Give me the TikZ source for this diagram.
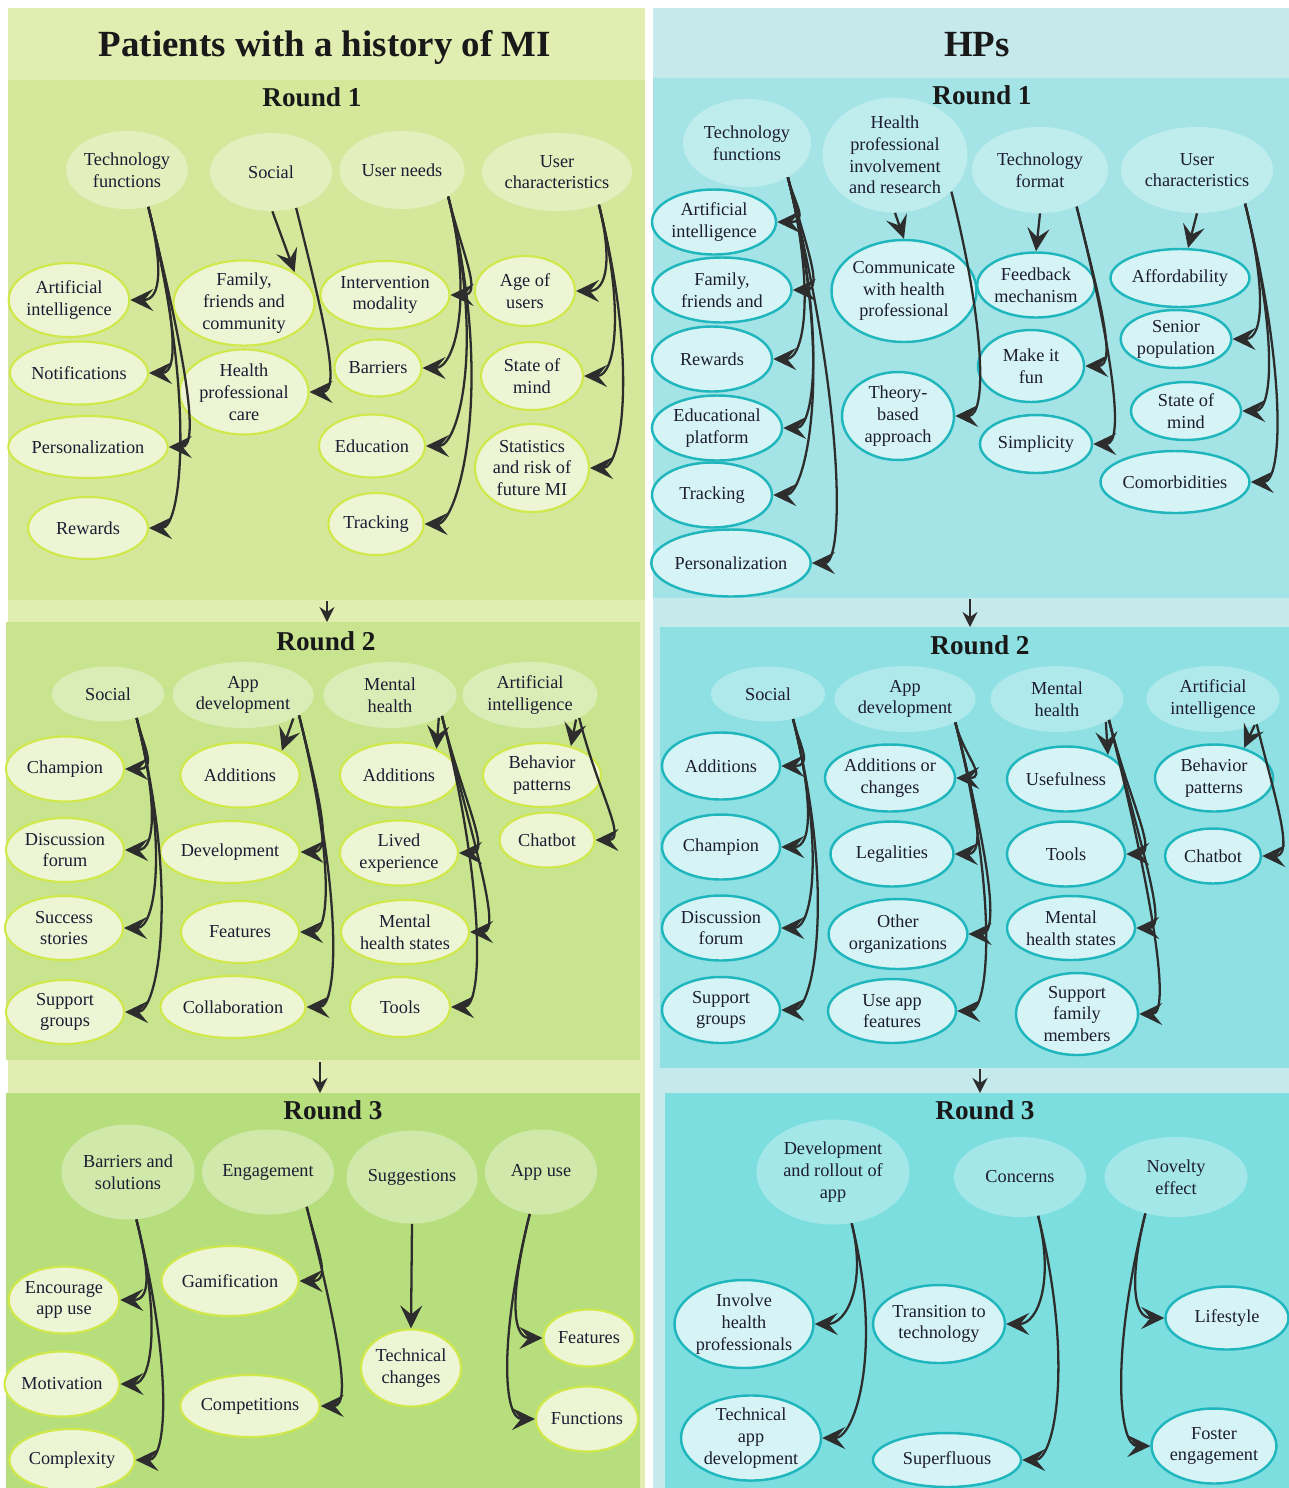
\documentclass[tikz,border=0pt]{standalone}
\usepackage{fontspec}
\setmainfont{Liberation Serif}
\usepackage{tikz}
\usetikzlibrary{shapes.geometric}
\usetikzlibrary{calc}
\usetikzlibrary{arrows.meta}

\definecolor{ink}{RGB}{28,28,50}
\definecolor{arrowgray}{RGB}{45,45,45}
\definecolor{pback}{RGB}{225,237,177}
\definecolor{pr1}{RGB}{212,231,154}
\definecolor{pr2}{RGB}{201,228,143}
\definecolor{pr3}{RGB}{183,222,125}
\definecolor{pfill}{RGB}{237,245,212}
\definecolor{pedge}{RGB}{208,232,74}
\definecolor{hback}{RGB}{198,234,235}
\definecolor{hr1}{RGB}{164,228,230}
\definecolor{hr2}{RGB}{142,224,227}
\definecolor{hr3}{RGB}{125,222,224}
\definecolor{hfill}{RGB}{214,244,245}
\definecolor{hedge}{RGB}{32,182,190}

\begin{document}
\begin{tikzpicture}[x=0.2mm, y=0.2mm, font=\fontsize{10.4}{12.4}\selectfont,
		heading/.style={font=\fontsize{21}{25}\selectfont\bfseries, text=black!90},
		roundlbl/.style={font=\fontsize{15.5}{18}\selectfont\bfseries, text=black!90},
		sz/.style 2 args={minimum width=#1*0.2mm, minimum height=#2*0.2mm},
		pcat/.style={ellipse, inner sep=0pt, align=center, text=ink, fill=white, fill opacity=0.35, text opacity=1},
		pitem/.style={ellipse, inner sep=0pt, align=center, text=ink, fill=pfill, draw=pedge, line width=1.2pt},
		hcat/.style={ellipse, inner sep=0pt, align=center, text=ink, fill=white, fill opacity=0.3, text opacity=1},
		hitem/.style={ellipse, inner sep=0pt, align=center, text=ink, fill=hfill, draw=hedge, line width=1.4pt},
		arr/.style={-{Stealth[length=4.6mm,width=4.4mm,inset=1.8mm]}, line width=1.3pt, draw=arrowgray},
		link/.style={-{Stealth[length=3mm,width=3mm,inset=1mm]}, line width=1pt, draw=arrowgray},
		fork/.style={to path={.. controls ($(\tikztostart)!0.6!(\tikztostart|-\tikztotarget)!0.25!-90:(\tikztostart)$) and ($(\tikztotarget)+(32,0)$) .. (\tikztotarget)}},
		forkr/.style={to path={.. controls ($(\tikztostart)!0.6!(\tikztostart|-\tikztotarget)!0.25!90:(\tikztostart)$) and ($(\tikztotarget)+(-32,0)$) .. (\tikztotarget)}}]
	\useasboundingbox (0,0) rectangle (1289,-1488);
	\fill[white] (0,0) rectangle (1289,-1488);

	% panels
	\fill[pback] (8,-8) rectangle (645,-1488);
	\fill[pr1] (8,-80) rectangle (645,-600);
	\fill[pr2] (6,-622) rectangle (640,-1060);
	\fill[pr3] (6,-1093) rectangle (640,-1488);
	\fill[hback] (653,-8) rectangle (1289,-1488);
	\fill[hr1] (653,-78) rectangle (1289,-598);
	\fill[hr2] (660,-627) rectangle (1289,-1068);
	\fill[hr3] (665,-1093) rectangle (1289,-1488);

	\node (ptitle) [heading] at (325,-47) {Patients with a history of MI};
	\node (htitle) [heading] at (977,-45) {HPs};
	\node (p1) [roundlbl] at (312,-97) {Round 1};
	\node (p2) [roundlbl] at (326,-641) {Round 2};
	\node (p3) [roundlbl] at (333,-1110) {Round 3};
	\node (h1) [roundlbl] at (982,-95) {Round 1};
	\node (h2) [roundlbl] at (980,-645) {Round 2};
	\node (h3) [roundlbl] at (985,-1110) {Round 3};

	% patients, round 1
	\node (p1tech) [pcat, sz={120}{78}] at (127,-170) {Technology\\functions};
	\node (p1soc)  [pcat, sz={122}{78}] at (271,-172) {Social};
	\node (p1need) [pcat, sz={125}{78}] at (402,-170) {User needs};
	\node (p1char) [pcat, sz={150}{78}] at (557,-172) {User\\characteristics};
	\node (p1ai)   [pitem, sz={120}{74}] at (69,-300) {Artificial\\intelligence};
	\node (p1not)  [pitem, sz={138}{63}] at (79,-373) {Notifications};
	\node (p1pers) [pitem, sz={157}{62}] at (88,-447) {Personalization};
	\node (p1rew)  [pitem, sz={120}{62}] at (88,-528) {Rewards};
	\node (p1fam)  [pitem, sz={141}{82}] at (244,-303) {Family,\\friends and\\community};
	\node (p1care) [pitem, sz={129}{85}] at (244,-392) {Health\\professional\\care};
	\node (p1mod)  [pitem, sz={129}{68}] at (385,-295) {Intervention\\modality};
	\node (p1bar)  [pitem, sz={87}{57}] at (378,-368) {Barriers};
	\node (p1edu)  [pitem, sz={106}{63}] at (372,-446) {Education};
	\node (p1trk)  [pitem, sz={95}{62}] at (376,-524) {Tracking};
	\node (p1age)  [pitem, sz={100}{70}] at (525,-291) {Age of\\users};
	\node (p1mind) [pitem, sz={102}{68}] at (532,-376) {State of\\mind};
	\node (p1stat) [pitem, sz={114}{88}] at (532,-468) {Statistics\\and risk of\\future MI};

	% patients, round 2
	\node (p2soc)   [pcat, sz={112}{55}] at (108,-694) {Social};
	\node (p2app)   [pcat, sz={141}{66}] at (243,-695) {App\\development};
	\node (p2mh)    [pcat, sz={133}{66}] at (390,-695) {Mental\\health};
	\node (p2ai)    [pcat, sz={135}{66}] at (530,-695) {Artificial\\intelligence};
	\node (p2champ) [pitem, sz={118}{65}] at (65,-769) {Champion};
	\node (p2forum) [pitem, sz={118}{64}] at (65,-850) {Discussion\\forum};
	\node (p2succ)  [pitem, sz={118}{64}] at (64,-928) {Success\\stories};
	\node (p2supp)  [pitem, sz={118}{64}] at (65,-1012) {Support\\groups};
	\node (p2add)   [pitem, sz={119}{65}] at (240,-775) {Additions};
	\node (p2dev)   [pitem, sz={137}{62}] at (230,-852) {Development};
	\node (p2feat)  [pitem, sz={118}{62}] at (240,-932) {Features};
	\node (p2coll)  [pitem, sz={145}{62}] at (233,-1007) {Collaboration};
	\node (p2madd)  [pitem, sz={118}{65}] at (399,-775) {Additions};
	\node (p2lived) [pitem, sz={118}{65}] at (399,-853) {Lived\\experience};
	\node (p2mhs)   [pitem, sz={128}{64}] at (405,-932) {Mental\\health states};
	\node (p2tools) [pitem, sz={100}{60}] at (400,-1007) {Tools};
	\node (p2beh)   [pitem, sz={118}{64}] at (542,-775) {Behavior\\patterns};
	\node (p2chat)  [pitem, sz={95}{55}] at (547,-840) {Chatbot};

	% patients, round 3
	\node (p3bar)   [pcat, sz={133}{95}] at (128,-1172) {Barriers and\\solutions};
	\node (p3eng)   [pcat, sz={132}{85}] at (268,-1172) {Engagement};
	\node (p3sug)   [pcat, sz={131}{93}] at (412,-1177) {Suggestions};
	\node (p3use)   [pcat, sz={112}{85}] at (541,-1172) {App use};
	\node (p3enc)   [pitem, sz={108}{67}] at (64,-1300) {Encourage\\app use};
	\node (p3mot)   [pitem, sz={112}{65}] at (62,-1384) {Motivation};
	\node (p3comp)  [pitem, sz={125}{62}] at (72,-1460) {Complexity};
	\node (p3gam)   [pitem, sz={137}{70}] at (230,-1281) {Gamification};
	\node (p3compt) [pitem, sz={139}{62}] at (250,-1406) {Competitions};
	\node (p3tech)  [pitem, sz={99}{77}] at (411,-1368) {Technical\\changes};
	\node (p3feat)  [pitem, sz={91}{57}] at (589,-1338) {Features};
	\node (p3func)  [pitem, sz={99}{65}] at (587,-1419) {Functions};

	% HPs, round 1
	\node (h1tech) [hcat, sz={128}{88}] at (747,-143) {Technology\\functions};
	\node (h1inv)  [hcat, sz={145}{115}] at (895,-155) {Health\\professional\\involvement\\and research};
	\node (h1fmt)  [hcat, sz={136}{86}] at (1040,-170) {Technology\\format};
	\node (h1char) [hcat, sz={152}{86}] at (1197,-170) {User\\characteristics};
	\node (h1ai)   [hitem, sz={124}{65}] at (714,-222) {Artificial\\intelligence};
	\node (h1fam)  [hitem, sz={139}{65}] at (722,-290) {Family,\\friends and};
	\node (h1rew)  [hitem, sz={120}{65}] at (712,-359) {Rewards};
	\node (h1edu)  [hitem, sz={130}{65}] at (717,-428) {Educational\\platform};
	\node (h1trk)  [hitem, sz={120}{65}] at (712,-495) {Tracking};
	\node (h1pers) [hitem, sz={157}{67}] at (731,-563) {Personalization};
	\node (h1comm) [hitem, sz={143}{102}] at (904,-291) {Communicate\\with health\\professional};
	\node (h1theo) [hitem, sz={112}{88}] at (898,-416) {Theory-\\based\\approach};
	\node (h1feed) [hitem, sz={116}{65}] at (1036,-285) {Feedback\\mechanism};
	\node (h1fun)  [hitem, sz={106}{72}] at (1031,-366) {Make it\\fun};
	\node (h1simp) [hitem, sz={112}{58}] at (1036,-444) {Simplicity};
	\node (h1aff)  [hitem, sz={139}{58}] at (1180,-278) {Affordability};
	\node (h1sen)  [hitem, sz={110}{58}] at (1176,-339) {Senior\\population};
	\node (h1mind) [hitem, sz={110}{58}] at (1186,-411) {State of\\mind};
	\node (h1com)  [hitem, sz={149}{62}] at (1175,-482) {Comorbidities};

	% HPs, round 2
	\node (h2soc)    [hcat, sz={114}{55}] at (768,-694) {Social};
	\node (h2app)    [hcat, sz={141}{66}] at (905,-699) {App\\development};
	\node (h2mh)     [hcat, sz={133}{66}] at (1057,-699) {Mental\\health};
	\node (h2ai)     [hcat, sz={133}{66}] at (1213,-699) {Artificial\\intelligence};
	\node (h2add)    [hitem, sz={118}{67}] at (721,-766) {Additions};
	\node (h2champ)  [hitem, sz={118}{65}] at (721,-847) {Champion};
	\node (h2forum)  [hitem, sz={118}{65}] at (721,-928) {Discussion\\forum};
	\node (h2supp)   [hitem, sz={118}{66}] at (721,-1010) {Support\\groups};
	\node (h2chg)    [hitem, sz={129}{67}] at (890,-778) {Additions or\\changes};
	\node (h2leg)    [hitem, sz={123}{65}] at (892,-854) {Legalities};
	\node (h2org)    [hitem, sz={135}{70}] at (898,-934) {Other\\organizations};
	\node (h2use)    [hitem, sz={128}{64}] at (892,-1011) {Use app\\features};
	\node (h2useful) [hitem, sz={118}{65}] at (1066,-779) {Usefulness};
	\node (h2tools)  [hitem, sz={118}{65}] at (1066,-854) {Tools};
	\node (h2mhs)    [hitem, sz={128}{64}] at (1071,-928) {Mental\\health states};
	\node (h2fam)    [hitem, sz={122}{82}] at (1077,-1014) {Support\\family\\members};
	\node (h2beh)    [hitem, sz={118}{67}] at (1214,-778) {Behavior\\patterns};
	\node (h2chat)   [hitem, sz={96}{55}] at (1213,-856) {Chatbot};

	% HPs, round 3
	\node (h3dev)  [hcat, sz={153}{105}] at (833,-1172) {Development\\and rollout of\\app};
	\node (h3con)  [hcat, sz={132}{80}] at (1020,-1177) {Concerns};
	\node (h3nov)  [hcat, sz={143}{80}] at (1176,-1177) {Novelty\\effect};
	\node (h3inv)  [hitem, sz={139}{88}] at (744,-1324) {Involve\\health\\professionals};
	\node (h3tech) [hitem, sz={140}{82}] at (751,-1438) {Technical\\app\\development};
	\node (h3tran) [hitem, sz={131}{78}] at (939,-1324) {Transition to\\technology};
	\node (h3sup)  [hitem, sz={148}{54}] at (947,-1460) {Superfluous};
	\node (h3life) [hitem, sz={123}{63}] at (1227,-1318) {Lifestyle};
	\node (h3fost) [hitem, sz={118}{75}] at (1214,-1446) {Foster\\engagement};

	% arrows between rounds
	\coordinate (p12a) at (327,-601);
	\coordinate (p12b) at (327,-622);
	\coordinate (p23a) at (320,-1062);
	\coordinate (p23b) at (320,-1093);
	\coordinate (h12a) at (970,-599);
	\coordinate (h12b) at (970,-627);
	\coordinate (h23a) at (980,-1069);
	\coordinate (h23b) at (980,-1093);
	\draw [link] (p12a)--(p12b);
	\draw [link] (p23a)--(p23b);
	\draw [link] (h12a)--(h12b);
	\draw [link] (h23a)--(h23b);

	% patients, round 1
	\draw [arr] (p1tech.-60) to[fork] (p1ai.east);
	\draw [arr] (p1tech.-60) to[fork] (p1not.east);
	\draw [arr] (p1tech.-60) to[fork] (p1pers.east);
	\draw [arr] (p1tech.-60) to[fork] (p1rew.east);
	\draw [arr] (p1soc.-88)--(p1fam.north east);
	\draw [arr] (p1soc.-55) to[fork] (p1care.east);
	\draw [arr] (p1need.-30) to[fork] (p1mod.east);
	\draw [arr] (p1need.-30) to[fork] (p1bar.east);
	\draw [arr] (p1need.-30) to[fork] (p1edu.east);
	\draw [arr] (p1need.-30) to[fork] (p1trk.east);
	\draw [arr] (p1char.-38) to[fork] (p1age.east);
	\draw [arr] (p1char.-38) to[fork] (p1mind.east);
	\draw [arr] (p1char.-38) to[fork] (p1stat.east);

	% patients, round 2
	\draw [arr] (p2soc.-40) to[fork] (p2champ.east);
	\draw [arr] (p2soc.-40) to[fork] (p2forum.east);
	\draw [arr] (p2soc.-40) to[fork] (p2succ.east);
	\draw [arr] (p2soc.-40) to[fork] (p2supp.east);
	\draw [arr] (p2app.-25)--(p2add.30);
	\draw [arr] (p2app.-20) to[fork] (p2dev.east);
	\draw [arr] (p2app.-20) to[fork] (p2feat.east);
	\draw [arr] (p2app.-20) to[fork] (p2coll.east);
	\draw [arr] (p2mh.-25)--(p2madd.35);
	\draw [arr] (p2mh.-22) to[fork] (p2lived.east);
	\draw [arr] (p2mh.-22) to[fork] (p2mhs.east);
	\draw [arr] (p2mh.-22) to[fork] (p2tools.east);
	\draw [arr] (p2ai.-28)--(p2beh.45);
	\draw [arr] (p2ai.-25) to[fork] (p2chat.east);

	% patients, round 3
	\draw [arr] (p3bar.-80) to[fork] (p3enc.east);
	\draw [arr] (p3bar.-80) to[fork] (p3mot.east);
	\draw [arr] (p3bar.-80) to[fork] (p3comp.east);
	\draw [arr] (p3eng.-42) to[fork] (p3gam.east);
	\draw [arr] (p3eng.-42) to[fork] (p3compt.east);
	\draw [arr] (p3sug.south)--(p3tech.north);
	\draw [arr] (p3use.-105) to[forkr] (p3feat.west);
	\draw [arr] (p3use.-105) to[forkr] (p3func.west);

	% HPs, round 1
	\draw [arr] (h1tech.-40) to[fork] (h1ai.east);
	\draw [arr] (h1tech.-40) to[fork] (h1fam.east);
	\draw [arr] (h1tech.-40) to[fork] (h1rew.east);
	\draw [arr] (h1tech.-40) to[fork] (h1edu.east);
	\draw [arr] (h1tech.-40) to[fork] (h1trk.east);
	\draw [arr] (h1tech.-40) to[fork] (h1pers.east);
	\draw [arr] (h1inv.south)--(h1comm.north);
	\draw [arr] (h1inv.-33) to[fork] (h1theo.east);
	\draw [arr] (h1fmt.south)--(h1feed.north);
	\draw [arr] (h1fmt.-45) to[fork] (h1fun.east);
	\draw [arr] (h1fmt.-45) to[fork] (h1simp.east);
	\draw [arr] (h1char.south)--(h1aff.75);
	\draw [arr] (h1char.-35) to[fork] (h1sen.east);
	\draw [arr] (h1char.-35) to[fork] (h1mind.east);
	\draw [arr] (h1char.-35) to[fork] (h1com.east);

	% HPs, round 2
	\draw [arr] (h2soc.-45) to[fork] (h2add.east);
	\draw [arr] (h2soc.-45) to[fork] (h2champ.east);
	\draw [arr] (h2soc.-45) to[fork] (h2forum.east);
	\draw [arr] (h2soc.-45) to[fork] (h2supp.east);
	\draw [arr] (h2app.-25) to[fork] (h2chg.east);
	\draw [arr] (h2app.-25) to[fork] (h2leg.east);
	\draw [arr] (h2app.-25) to[fork] (h2org.east);
	\draw [arr] (h2app.-25) to[fork] (h2use.east);
	\draw [arr] (h2mh.-25)--(h2useful.30);
	\draw [arr] (h2mh.-22) to[fork] (h2tools.east);
	\draw [arr] (h2mh.-22) to[fork] (h2mhs.east);
	\draw [arr] (h2mh.-22) to[fork] (h2fam.east);
	\draw [arr] (h2ai.-32)--(h2beh.45);
	\draw [arr] (h2ai.-30) to[fork] (h2chat.east);

	% HPs, round 3
	\draw [arr] (h3dev.-70) to[fork] (h3inv.east);
	\draw [arr] (h3dev.-70) to[fork] (h3tech.east);
	\draw [arr] (h3con.-65) to[fork] (h3tran.east);
	\draw [arr] (h3con.-65) to[fork] (h3sup.east);
	\draw [arr] (h3nov.-130) to[forkr] (h3life.west);
	\draw [arr] (h3nov.-130) to[forkr] (h3fost.west);
\end{tikzpicture}
\end{document}
